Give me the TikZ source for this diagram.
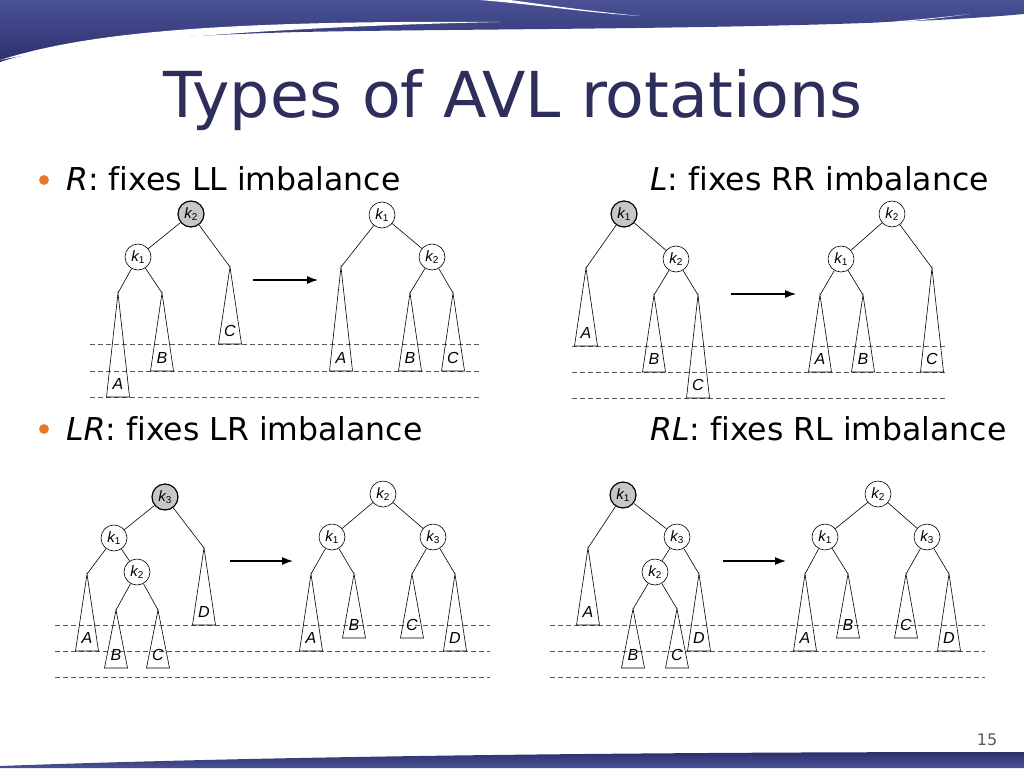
\documentclass[tikz,border=0pt]{standalone}
\usepackage{fontspec}
\setmainfont[Ligatures=NoCommon]{DejaVu Sans}
\newfontfamily\labf{Liberation Sans}
\definecolor{navy}{HTML}{2B2F6B}
\definecolor{navyl}{HTML}{4A5296}
\definecolor{bul}{HTML}{E8772E}
\definecolor{ttl}{HTML}{2E2E5C}
\newcommand\kk[1]{{\labf\itshape k}\raisebox{-2.5pt}{\labf\fontsize{10}{10}\selectfont #1}}
\newcommand\tri[5]{\coordinate (#1) at (#2,#3);
 \draw[tl] (#1) -- (#2-11.5,#4) -- (#2+11.5,#4) -- cycle;
 \node[lab] at (#2,#4-13) {#5};}
\begin{document}
\begin{tikzpicture}[x=1pt,y=-1pt,
 tl/.style={line width=0.6pt},
 kn/.style={circle,draw,line width=0.6pt,minimum size=26pt,inner sep=0pt,fill=white,font=\fontsize{15}{15}\selectfont},
 kg/.style={kn,fill=black!22,line width=1.2pt},
 lab/.style={font=\labf\itshape\fontsize{16}{16}\selectfont},
 dl/.style={dashed,line width=0.6pt,gray!70!black,dash pattern=on 5pt off 3pt},
 arr/.style={-{Latex[length=11pt,width=8pt]},line width=1.2pt},
 txt/.style={anchor=base west,inner sep=0pt,font=\fontsize{31.5}{31.5}\selectfont}]
\usetikzlibrary{arrows.meta}
\useasboundingbox (0,0) rectangle (1024,768);
\fill[white] (0,0) rectangle (1024,768);
% header
\shade[top color=navyl,bottom color=navy] (0,0) -- (1024,0) -- (1024,14) .. controls (850,30) and (500,28) .. (300,32) .. controls (150,36) and (50,45) .. (0,62) -- cycle;
\fill[white] (0,60) .. controls (80,35) and (200,20) .. (500,22) .. controls (300,26) and (100,40) .. (0,60) -- cycle;
\fill[white] (480,0) .. controls (540,5) and (580,12) .. (640,16) .. controls (580,10) and (540,4) .. (510,0) -- cycle;
\fill[white] (750,30) .. controls (850,26) and (920,20) .. (970,14) .. controls (900,24) and (820,30) .. (750,30) -- cycle;
\shade[top color=navy,bottom color=navyl] (0,768) -- (1024,768) -- (1024,752) .. controls (700,752) and (300,755) .. (0,766) -- cycle;
\node[anchor=base,font=\fontsize{63.3}{63.3}\selectfont,text=ttl] (title) at (513,117) {Types of AVL rotations};
% texts
\node[circle,fill=bul,inner sep=3.5pt] (b1) at (44,180) {};
\node[circle,fill=bul,inner sep=3.5pt] (b2) at (44,429) {};
\node[txt] (t1) at (66,190) {\textit{R}: fixes LL imbalance};
\node[txt] (t2) at (650,190) {\textit{L}: fixes RR imbalance};
\node[txt] (t3) at (66,440) {\textit{LR}: fixes LR imbalance};
\node[txt] (t4) at (650,440) {\textit{RL}: fixes RL imbalance};
\node[font=\fontsize{16}{16}\selectfont,text=gray!70!black] (pg) at (987,740) {15};
% ---------- R ----------
\foreach \y in {344,371,397} \draw[dl] (90,\y) -- (480,\y);
\tri{aA}{118}{293}{397}{A}
\tri{aB}{162}{293}{371}{B}
\tri{aC}{230}{267}{344}{C}
\node[kg] (ak2) at (191,214) {\kk2};
\node[kn] (ak1) at (138,257) {\kk1};
\draw[tl] (ak2)--(ak1); \draw[tl] (ak2)--(aC); \draw[tl] (ak1)--(aA); \draw[tl] (ak1)--(aB);
\coordinate (aa1) at (253,280); \coordinate (aa2) at (318,280);
\draw[arr] (aa1)--(aa2);
\tri{bA}{341}{267}{371}{A}
\tri{bB}{410}{293}{371}{B}
\tri{bC}{453}{293}{371}{C}
\node[kn] (bk1) at (382,215) {\kk1};
\node[kn] (bk2) at (432,257) {\kk2};
\draw[tl] (bk1)--(bk2); \draw[tl] (bk1)--(bA); \draw[tl] (bk2)--(bB); \draw[tl] (bk2)--(bC);
% ---------- L ----------
\foreach \y in {346,372,398} \draw[dl] (572,\y) -- (945,\y);
\tri{cA}{586}{268}{346}{A}
\tri{cB}{654}{295}{372}{B}
\tri{cC}{698}{295}{398}{C}
\node[kg] (ck1) at (624,214) {\kk1};
\node[kn] (ck2) at (676,259) {\kk2};
\draw[tl] (ck1)--(ck2); \draw[tl] (ck1)--(cA); \draw[tl] (ck2)--(cB); \draw[tl] (ck2)--(cC);
\coordinate (ca1) at (731,294); \coordinate (ca2) at (796,294);
\draw[arr] (ca1)--(ca2);
\tri{dA}{820}{295}{372}{A}
\tri{dB}{863}{295}{372}{B}
\tri{dC}{932}{268}{372}{C}
\node[kn] (dk2) at (892,214) {\kk2};
\node[kn] (dk1) at (841,259) {\kk1};
\draw[tl] (dk2)--(dk1); \draw[tl] (dk2)--(dC); \draw[tl] (dk1)--(dA); \draw[tl] (dk1)--(dB);
% ---------- LR ----------
\foreach \y in {625,651,677} \draw[dl] (55,\y) -- (490,\y);
\tri{eA}{87}{574}{651}{A}
\tri{eB}{116}{610}{668}{B}
\tri{eC}{158}{610}{668}{C}
\tri{eD}{204}{548}{625}{D}
\node[kg] (ek3) at (165,497) {\kk3};
\node[kn] (ek1) at (114,538) {\kk1};
\node[kn] (ek2) at (137,572) {\kk2};
\draw[tl] (ek3)--(ek1); \draw[tl] (ek3)--(eD); \draw[tl] (ek1)--(eA); \draw[tl] (ek1)--(ek2);
\draw[tl] (ek2)--(eB); \draw[tl] (ek2)--(eC);
\coordinate (ea1) at (230,561); \coordinate (ea2) at (293,561);
\draw[arr] (ea1)--(ea2);
\tri{fA}{311}{574}{651}{A}
\tri{fB}{354}{574}{638}{B}
\tri{fC}{412}{574}{638}{C}
\tri{fD}{455}{574}{651}{D}
\node[kn] (fk2) at (383,494) {\kk2};
\node[kn] (fk1) at (332,537) {\kk1};
\node[kn] (fk3) at (433,537) {\kk3};
\draw[tl] (fk2)--(fk1); \draw[tl] (fk2)--(fk3); \draw[tl] (fk1)--(fA); \draw[tl] (fk1)--(fB);
\draw[tl] (fk3)--(fC); \draw[tl] (fk3)--(fD);
% ---------- RL ----------
\foreach \y in {625,651,677} \draw[dl] (550,\y) -- (985,\y);
\tri{gA}{588}{548}{625}{A}
\tri{gB}{633}{609}{668}{B}
\tri{gC}{677}{609}{668}{C}
\tri{gD}{699}{574}{651}{D}
\node[kg] (gk1) at (623,495) {\kk1};
\node[kn] (gk3) at (677,537) {\kk3};
\node[kn] (gk2) at (655,572) {\kk2};
\draw[tl] (gk1)--(gA); \draw[tl] (gk1)--(gk3); \draw[tl] (gk3)--(gk2); \draw[tl] (gk3)--(gD);
\draw[tl] (gk2)--(gB); \draw[tl] (gk2)--(gC);
\coordinate (ga1) at (723,561); \coordinate (ga2) at (786,561);
\draw[arr] (ga1)--(ga2);
\tri{hA}{805}{574}{651}{A}
\tri{hB}{848}{574}{638}{B}
\tri{hC}{906}{574}{638}{C}
\tri{hD}{949}{574}{651}{D}
\node[kn] (hk2) at (878,494) {\kk2};
\node[kn] (hk1) at (825,537) {\kk1};
\node[kn] (hk3) at (927,537) {\kk3};
\draw[tl] (hk2)--(hk1); \draw[tl] (hk2)--(hk3); \draw[tl] (hk1)--(hA); \draw[tl] (hk1)--(hB);
\draw[tl] (hk3)--(hC); \draw[tl] (hk3)--(hD);
\end{tikzpicture}
\end{document}
